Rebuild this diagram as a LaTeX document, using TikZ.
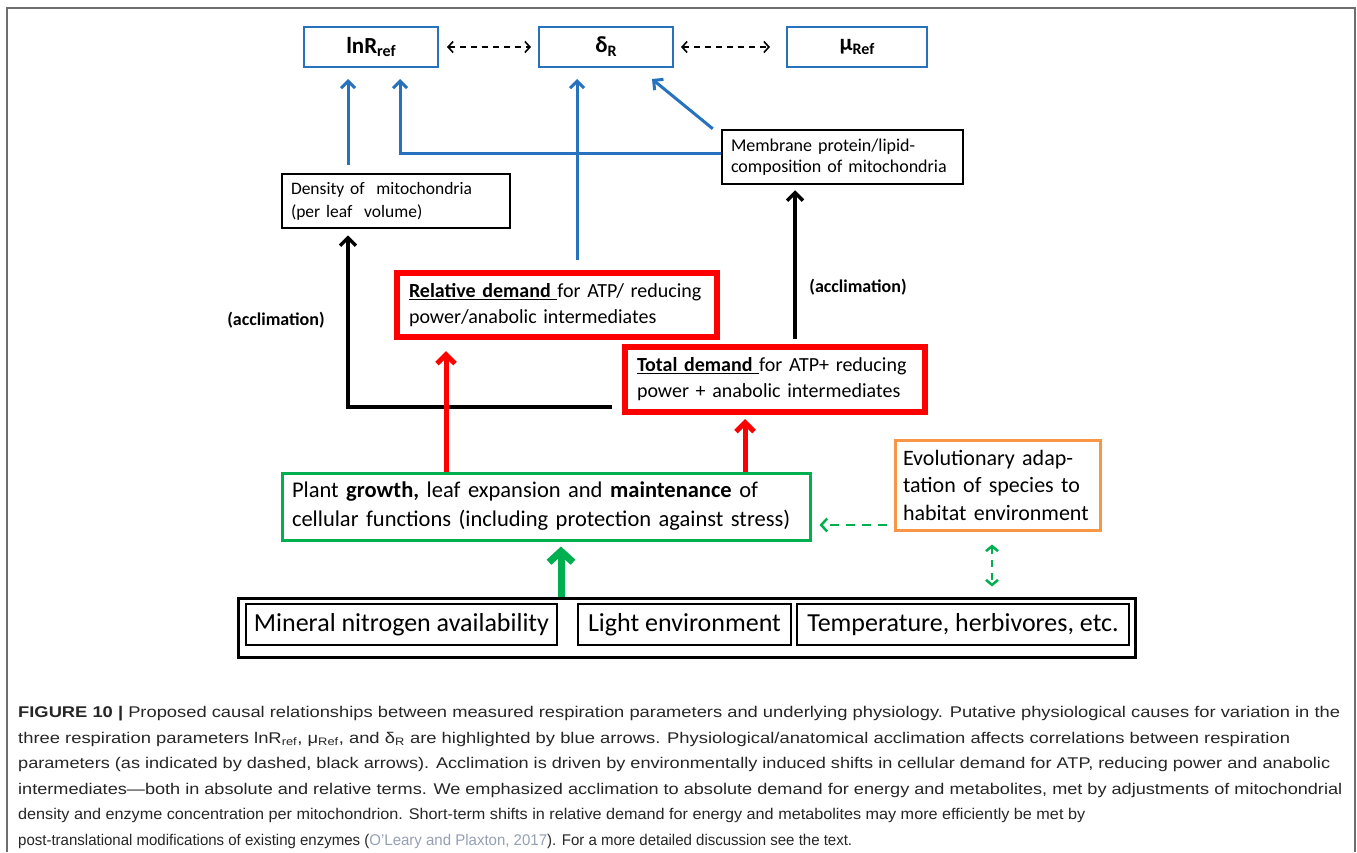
\documentclass[tikz,border=0pt]{standalone}
\usepackage{fontspec}
\setmainfont{Carlito}
\newfontfamily\capfont{Liberation Sans}
\usetikzlibrary{arrows.meta}
\definecolor{blu}{RGB}{38,114,190}
\definecolor{rd}{RGB}{255,0,0}
\definecolor{grn}{RGB}{0,176,80}
\definecolor{org}{RGB}{247,150,70}
\definecolor{lnk}{RGB}{150,160,180}
\definecolor{frm}{RGB}{110,110,110}
\tikzset{
  x=1pt, y=-1pt,
  topbox/.style={draw=blu, line width=2pt, minimum height=40pt, inner sep=0pt, font=\fontsize{23}{27}\selectfont\bfseries},
  txtbox/.style={draw=black, line width=2.5pt, inner xsep=9pt, inner ysep=0pt, align=left},
  redbox/.style={draw=rd, line width=6pt, inner xsep=12pt, inner ysep=0pt, align=left, font=\fontsize{20}{26}\selectfont},
  envbox/.style={draw=black, line width=2.5pt, minimum height=41pt, inner sep=0pt, font=\fontsize{26}{30}\selectfont},
  barrow/.style={draw=blu, line width=3pt, -{Straight Barb[length=7pt,width=14pt,line width=3pt]}},
  karrow/.style={draw=black, line width=3.5pt, -{Straight Barb[length=8pt,width=16pt,line width=3.5pt]}},
  rarrow/.style={draw=rd, line width=5pt, -{Straight Barb[length=9pt,width=18pt,line width=5pt]}},
  garrow/.style={draw=grn, line width=7pt, -{Straight Barb[length=11pt,width=24pt,line width=7pt]}},
  dasharr/.style={draw=black, line width=1.6pt, dash pattern=on 6pt off 5pt, {Straight Barb[length=5pt,width=11pt,line width=1.6pt]}-{Straight Barb[length=5pt,width=11pt,line width=1.6pt]}},
  gdash/.style={draw=grn, line width=2.5pt, dash pattern=on 9pt off 7pt},
  caption/.style={anchor=base west, inner sep=0pt, font=\capfont\fontsize{15.5}{18}\selectfont, text=black!85},
  lbl/.style={inner sep=0pt, font=\fontsize{18}{21}\selectfont\bfseries}
}
\begin{document}
\begin{tikzpicture}
\useasboundingbox (0,0) rectangle (1357,852);
\fill[white] (0,0) rectangle (1357,852);
\draw[frm, line width=1.5pt] (7,852) -- (7,8) -- (1355,8) -- (1355,852);

% top parameter boxes
\node[topbox, minimum width=134pt] (lnR) at (371,47) {lnR\raisebox{-0.35ex}{\fontsize{16}{18}\selectfont ref}};
\node[topbox, minimum width=134pt] (dR) at (606,47) {δ\raisebox{-0.35ex}{\fontsize{16}{18}\selectfont R}};
\node[topbox, minimum width=140pt] (mu) at (857,47) {μ\raisebox{-0.35ex}{\fontsize{16}{18}\selectfont Ref}};
\draw[dasharr] ([xshift=8pt]lnR.east) -- ([xshift=-7pt]dR.west);
\draw[dasharr] ([xshift=7pt]dR.east) -- ([xshift=-16pt]mu.west);

% physiology boxes
\node[txtbox, text width=210pt, minimum height=54pt, font=\fontsize{17.5}{23}\selectfont] (dens) at (396,201) {\mbox{Density of\ \ mitochondria}\\\mbox{(per leaf\ \ volume)}};
\node[txtbox, text width=223pt, minimum height=54pt, font=\fontsize{18}{21}\selectfont] (memb) at (842.5,157) {\mbox{Membrane protein/lipid-}\\\mbox{composition of mitochondria}};

\node[redbox, text width=296pt, minimum height=64pt] (rel) at (557,305) {\mbox{\underline{\textbf{Relative demand }}for ATP/ reducing}\\\mbox{power/anabolic intermediates}};
\node[redbox, text width=276pt, minimum height=65pt] (tot) at (775,379.5) {\mbox{\underline{\textbf{Total demand }}for ATP+ reducing}\\\mbox{power + anabolic intermediates}};

\node[lbl] (acc1) at (276,320) {(acclimation)};
\node[lbl] (acc2) at (858,287) {(acclimation)};

\node[draw=grn, line width=3pt, text width=508pt, minimum height=67pt, inner xsep=10pt, inner ysep=0pt, align=left, font=\fontsize{22.5}{29}\selectfont] (grow) at (546,506.5) {\mbox{Plant \textbf{growth,} leaf expansion and \textbf{maintenance} of}\\\mbox{cellular functions (including protection against stress)}};
\node[draw=org, line width=3pt, text width=189pt, minimum height=90pt, inner xsep=8pt, inner ysep=0pt, align=left, font=\fontsize{22}{27.5}\selectfont] (evo) at (997.5,485) {\mbox{Evolutionary adap-}\\\mbox{tation of species to}\\\mbox{habitat environment}};

% environment
\node[draw=black, line width=3pt, minimum width=897pt, minimum height=59pt, inner sep=0pt] (env) at (686.5,627.5) {};
\node[envbox, minimum width=311pt] (min) at (401.5,624.5) {Mineral nitrogen availability};
\node[envbox, minimum width=213pt] (light) at (684.5,624.5) {Light environment};
\node[envbox, minimum width=332pt] (temp) at (963,624.5) {Temperature, herbivores, etc.};

% coordinates for connectors
\coordinate (c1) at (348,0);
\coordinate (c2) at (400,153);
\coordinate (c3) at (577,260);
\coordinate (c4) at (652,79);
\coordinate (c5) at (348,407);
\coordinate (c6) at (612,407);
\coordinate (c7) at (795,0);
\coordinate (c8) at (446,0);
\coordinate (c9) at (745,0);
\coordinate (c10) at (561,0);
\coordinate (c11) at (992,0);
\coordinate (c12) at (0,525);

% blue arrows
\draw[barrow] ([yshift=8pt]dens.north -| c1) -- ([yshift=-11pt]lnR.south -| c1);
\draw[barrow] (memb.west |- c2) -| ([yshift=-11pt]lnR.south -| c2);
\draw[barrow] (c3) -- ([yshift=-11pt]dR.south -| c3);
\draw[barrow] ([xshift=-8pt]memb.north west) -- (c4);

% black arrows
\draw[karrow] (c6) -- (c5) -- ([yshift=-6pt]dens.south -| c5);
\draw[karrow] ([yshift=5pt]tot.north -| c7) -- ([yshift=-5pt]memb.south -| c7);

% red arrows
\draw[rarrow] (grow.north -| c8) -- ([yshift=-11pt]rel.south -| c8);
\draw[rarrow] (grow.north -| c9) -- ([yshift=-4pt]tot.south -| c9);

% green arrows
\draw[garrow] (env.north -| c10) -- ([yshift=-5pt]grow.south -| c10);
\draw[gdash, -{Straight Barb[length=6pt,width=13pt,line width=2.5pt]}] ([xshift=-7pt]evo.west |- c12) -- ([xshift=8pt]grow.east |- c12);
\draw[gdash, dash pattern=on 7pt off 6pt, {Straight Barb[length=5pt,width=12pt,line width=2.5pt]}-{Straight Barb[length=5pt,width=12pt,line width=2.5pt]}] ([yshift=-13pt]evo.south -| c11) -- ([yshift=10pt]env.north -| c11);

% caption
\node[caption] (cap1) at (18,717) {\resizebox{1322pt}{\height}{\textbf{FIGURE 10 |} Proposed causal relationships between measured respiration parameters and underlying physiology. Putative physiological causes for variation in the}};
\node[caption] (cap2) at (18,743) {\resizebox{1272pt}{\height}{three respiration parameters lnR\textsubscript{ref}, μ\textsubscript{Ref}, and δ\textsubscript{R} are highlighted by blue arrows. Physiological/anatomical acclimation affects correlations between respiration}};
\node[caption] (cap3) at (18,768) {\resizebox{1312pt}{\height}{parameters (as indicated by dashed, black arrows). Acclimation is driven by environmentally induced shifts in cellular demand for ATP, reducing power and anabolic}};
\node[caption] (cap4) at (18,794) {\resizebox{1324pt}{\height}{intermediates—both in absolute and relative terms. We emphasized acclimation to absolute demand for energy and metabolites, met by adjustments of mitochondrial}};
\node[caption] (cap5) at (18,819) {\resizebox{1067pt}{\height}{density and enzyme concentration per mitochondrion. Short-term shifts in relative demand for energy and metabolites may more efficiently be met by}};
\node[caption] (cap6) at (18,845) {\resizebox{834pt}{\height}{post-translational modifications of existing enzymes (\textcolor{lnk}{O’Leary and Plaxton, 2017}). For a more detailed discussion see the text.}};
\end{tikzpicture}
\end{document}
